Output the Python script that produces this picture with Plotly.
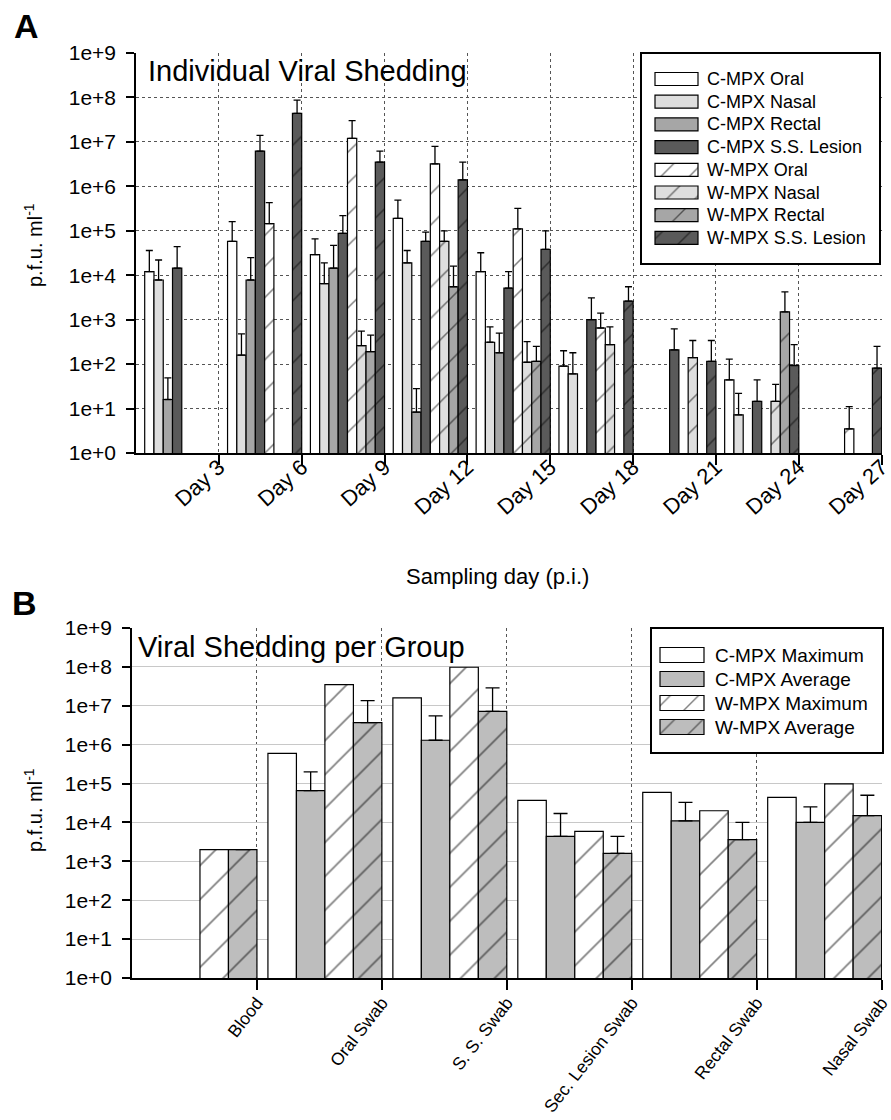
import plotly.graph_objects as go

# ---------------- Panel A data (p.f.u./ml) ----------------
days = ["Day 3", "Day 6", "Day 9", "Day 12", "Day 15", "Day 18", "Day 21", "Day 24", "Day 27"]

c_oral = [1.2e4, 5.8e4, 2.9e4, 1.9e5, 1.2e4, 90, None, 44, None]
c_oral_err = [3.6e4, 1.6e5, 6.6e4, 4.9e5, 3.2e4, 2.0e2, None, 1.3e2, None]
c_nasal = [7.8e3, 1.6e2, 6.5e3, 1.9e4, 3.1e2, 60, None, 7.2, None]
c_nasal_err = [2.2e4, 4.8e2, 1.9e4, 3.6e4, 6.9e2, 1.8e2, None, 22, None]
c_rectal = [16, 7.8e3, 1.45e4, 8.3, 1.8e2, None, None, None, None]
c_rectal_err = [49, 2.5e4, 4.7e4, 28, 5.0e2, None, None, None, None]
c_lesion = [1.45e4, 6.2e6, 8.7e4, 5.8e4, 5.1e3, 1.0e3, 2.1e2, 14.5, None]
c_lesion_err = [4.4e4, 1.4e7, 2.2e5, 9.3e4, 1.2e4, 3.1e3, 6.2e2, 44, None]
w_oral = [None, 1.45e5, 1.2e7, 3.2e6, 1.1e5, 6.5e2, None, None, 3.5]
w_oral_err = [None, 4.3e5, 3.0e7, 7.9e6, 3.2e5, 1.4e3, None, None, 11]
w_nasal = [None, None, 2.6e2, 5.8e4, 1.1e2, 2.75e2, 1.4e2, 14.5, None]
w_nasal_err = [None, None, 5.5e2, 1.0e5, 3.2e2, 6.9e2, 3.4e2, 35, None]
w_rectal = [None, None, 1.9e2, 5.5e3, 1.15e2, None, None, 1.5e3, None]
w_rectal_err = [None, None, 4.5e2, 1.6e4, 2.5e2, None, None, 4.2e3, None]
w_lesion = [None, 4.4e7, 3.5e6, 1.4e6, 3.8e4, 2.6e3, 1.15e2, 93, 81]
w_lesion_err = [None, 8.7e7, 6.2e6, 3.5e6, 1.0e5, 5.5e3, 3.4e2, 2.75e2, 2.5e2]

# ---------------- Panel B data (p.f.u./ml) ----------------
groups = ["Blood", "Oral Swab", "S. S. Swab", "Sec. Lesion Swab", "Rectal Swab", "Nasal Swab"]
c_max = [None, 6.0e5, 1.6e7, 3.7e4, 5.9e4, 4.4e4]
c_avg = [None, 6.6e4, 1.3e6, 4.4e3, 1.1e4, 1.0e4]
c_avg_err = [None, 2.0e5, 5.5e6, 1.7e4, 3.3e4, 2.5e4]
w_max = [2.0e3, 3.5e7, 9.8e7, 5.9e3, 2.0e4, 9.8e4]
w_avg = [2.0e3, 3.7e6, 7.2e6, 1.6e3, 3.6e3, 1.5e4]
w_avg_err = [None, 1.35e7, 2.9e7, 4.4e3, 1.0e4, 5.0e4]

ytick_vals = [10 ** i for i in range(10)]
ytick_text = ["1e+%d" % i for i in range(10)]

FONT = "Liberation Sans, Arial, sans-serif"
W, H = 891, 1120


def plus(vals, tops):
    out = []
    for v, t in zip(vals, tops):
        out.append(t - v if (v is not None and t is not None) else None)
    return out


def hatch(col, hatched, size=22, sol=0.07):
    if hatched:
        return dict(shape="/", fgcolor="#000000", bgcolor=col, size=size, solidity=sol)
    return dict(shape="")


fig = go.Figure()

# Panel A series
series_a = [
    ("C-MPX Oral", c_oral, c_oral_err, "#ffffff", False),
    ("C-MPX Nasal", c_nasal, c_nasal_err, "#dedede", False),
    ("C-MPX Rectal", c_rectal, c_rectal_err, "#a6a6a6", False),
    ("C-MPX S.S. Lesion", c_lesion, c_lesion_err, "#5a5a5a", False),
    ("W-MPX Oral", w_oral, w_oral_err, "#ffffff", True),
    ("W-MPX Nasal", w_nasal, w_nasal_err, "#dedede", True),
    ("W-MPX Rectal", w_rectal, w_rectal_err, "#a6a6a6", True),
    ("W-MPX S.S. Lesion", w_lesion, w_lesion_err, "#5a5a5a", True),
]
gapA = 0.105
bwA = (1 - gapA) / 8
xA = list(range(len(days)))
for k, (name, vals, tops, col, hat) in enumerate(series_a):
    fig.add_trace(go.Bar(
        x=xA, y=vals, name=name, xaxis="x", yaxis="y", showlegend=False,
        offset=gapA + k * bwA, width=bwA,
        marker=dict(color=col, line=dict(color="#000000", width=1.2), pattern=hatch(col, hat)),
        error_y=dict(type="data", symmetric=False, array=plus(vals, tops),
                     arrayminus=[0] * len(vals), color="#000000", thickness=1.3, width=3.5),
    ))

# Panel B series
series_b = [
    ("C-MPX Maximum", c_max, None, "#ffffff", False),
    ("C-MPX Average", c_avg, c_avg_err, "#bdbdbd", False),
    ("W-MPX Maximum", w_max, None, "#ffffff", True),
    ("W-MPX Average", w_avg, w_avg_err, "#bdbdbd", True),
]
gapB = 0.088
bwB = (1 - gapB) / 4
xB = list(range(len(groups)))
for k, (name, vals, tops, col, hat) in enumerate(series_b):
    eb = dict(visible=False)
    if tops is not None:
        eb = dict(type="data", symmetric=False, array=plus(vals, tops),
                  arrayminus=[0] * len(vals), color="#000000", thickness=1.3, width=7)
    fig.add_trace(go.Bar(
        x=xB, y=vals, name=name, xaxis="x2", yaxis="y2", showlegend=False,
        offset=gapB + k * bwB, width=bwB,
        marker=dict(color=col, line=dict(color="#000000", width=1.2), pattern=hatch(col, hat, 24)),
        error_y=eb,
    ))


# ---------------- Legends drawn as small boxed subplots ----------------
def add_legend_box(xa, ya, box, sw_x, sw_w, sw_h, text_x, centers, series, fsize):
    x0, x1, y0, y1 = box
    # white background of the legend box
    fig.add_trace(go.Bar(x=[x1 - x0], y=[(y0 + y1) / 2], base=[x0], width=[y1 - y0], orientation="h",
                         xaxis=xa, yaxis=ya, showlegend=False, hoverinfo="skip",
                         marker=dict(color="#ffffff", line=dict(width=0))))
    for (name, _v, _t, col, hat), yc in zip(series, centers):
        fig.add_trace(go.Bar(x=[sw_w], y=[yc], base=[sw_x], width=[sw_h], orientation="h",
                             xaxis=xa, yaxis=ya, showlegend=False, hoverinfo="skip",
                             marker=dict(color=col, line=dict(color="#000000", width=1.2),
                                         pattern=hatch(col, hat, 20))))
        fig.add_annotation(text=name, x=text_x, y=yc, xref=xa, yref=ya, xanchor="left",
                           yanchor="middle", showarrow=False,
                           font=dict(family=FONT, size=fsize, color="#000000"))


legA_box = (642, 879, 54, 263)
legB_box = (652, 882, 629, 752)
add_legend_box("x3", "y3", legA_box, 655, 43, 13, 705,
               [79, 101.7, 124.4, 147.1, 169.8, 192.5, 215.2, 237.9], series_a, 18)
add_legend_box("x4", "y4", legB_box, 660, 44, 15, 713,
               [655, 679, 703, 727], series_b, 19)

axis_common = dict(showline=True, linecolor="#000000", linewidth=1.5, ticks="outside",
                   tickcolor="#000000", tickwidth=1.5, zeroline=False, automargin=False,
                   ticklabeloverflow="allow",
                   tickfont=dict(family=FONT, size=21, color="#000000"))


def leg_axes(box, horizontal):
    x0, x1, y0, y1 = box
    d = dict(showline=True, mirror=True, linecolor="#000000", linewidth=1.5, ticks="",
             showticklabels=False, showgrid=False, zeroline=False, automargin=False,
             fixedrange=True)
    if horizontal:
        d.update(domain=[x0 / W, x1 / W], range=[x0, x1])
    else:
        d.update(domain=[1 - y1 / H, 1 - y0 / H], range=[y1, y0])
    return d


xmaxA = 9.004
xmaxB = 6.003
fig.update_layout(
    width=W, height=H, margin=dict(l=0, r=0, t=0, b=0, autoexpand=False),
    paper_bgcolor="#ffffff", plot_bgcolor="#ffffff",
    barmode="overlay", font=dict(family=FONT, color="#000000"), showlegend=False,
    xaxis=dict(axis_common, domain=[136 / W, 882 / W], range=[0, xmaxA], anchor="y",
               tickvals=[i + 1 for i in range(len(days))], ticktext=days, tickangle=-42,
               ticklen=10, ticklabelstandoff=-19,
               tickfont=dict(family=FONT, size=22, color="#000000"),
               showgrid=True, griddash="dot", gridcolor="#555555", gridwidth=1),
    yaxis=dict(axis_common, type="log", range=[0, 9], anchor="x",
               domain=[1 - 453 / H, 1 - 53 / H], tickvals=ytick_vals, ticktext=ytick_text,
               ticklen=8, ticklabelstandoff=6,
               showgrid=True, griddash="dot", gridcolor="#555555", gridwidth=1),
    xaxis2=dict(axis_common, domain=[132 / W, 882 / W], range=[0, xmaxB], anchor="y2",
                tickvals=[i + 1 for i in range(len(groups))], ticktext=groups, tickangle=-52,
                ticklen=10, ticklabelstandoff=-4,
                tickfont=dict(family=FONT, size=17.5, color="#000000"),
                showgrid=True, griddash="dot", gridcolor="#555555", gridwidth=1),
    yaxis2=dict(axis_common, type="log", range=[0, 9], anchor="x2",
                domain=[1 - 978 / H, 1 - 628 / H], tickvals=ytick_vals, ticktext=ytick_text,
                ticklen=8, ticklabelstandoff=6,
                showgrid=True, gridcolor="#c8c8c8", gridwidth=1),
    xaxis3=dict(leg_axes(legA_box, True), anchor="y3"),
    yaxis3=dict(leg_axes(legA_box, False), anchor="x3"),
    xaxis4=dict(leg_axes(legB_box, True), anchor="y4"),
    yaxis4=dict(leg_axes(legB_box, False), anchor="x4"),
)

ann = [
    dict(text="<b>A</b>", x=12 / W, y=1 - 26 / H, xanchor="left", yanchor="middle", size=34),
    dict(text="<b>B</b>", x=10 / W, y=1 - 603 / H, xanchor="left", yanchor="middle", size=34),
    dict(text="Individual Viral Shedding", x=146 / W, y=1 - 71 / H, xanchor="left", yanchor="middle", size=29),
    dict(text="Viral Shedding per Group", x=136 / W, y=1 - 647 / H, xanchor="left", yanchor="middle", size=29),
    dict(text="Sampling day (p.i.)", x=497 / W, y=1 - 577 / H, xanchor="center", yanchor="middle", size=22),
]
for a in ann:
    fig.add_annotation(text=a["text"], x=a["x"], y=a["y"], xref="paper", yref="paper",
                       xanchor=a["xanchor"], yanchor=a["yanchor"], showarrow=False,
                       font=dict(family=FONT, size=a["size"], color="#000000"))
for yc in (245, 810):
    fig.add_annotation(text="p.f.u. ml<sup>-1</sup>", x=33 / W, y=1 - yc / H, xref="paper", yref="paper",
                       xanchor="center", yanchor="middle", textangle=-90, showarrow=False,
                       font=dict(family=FONT, size=20, color="#000000"))

fig.write_html("out.html", config={"displayModeBar": False},
               post_script="document.body.style.margin='0px';document.body.style.overflow='hidden';")
